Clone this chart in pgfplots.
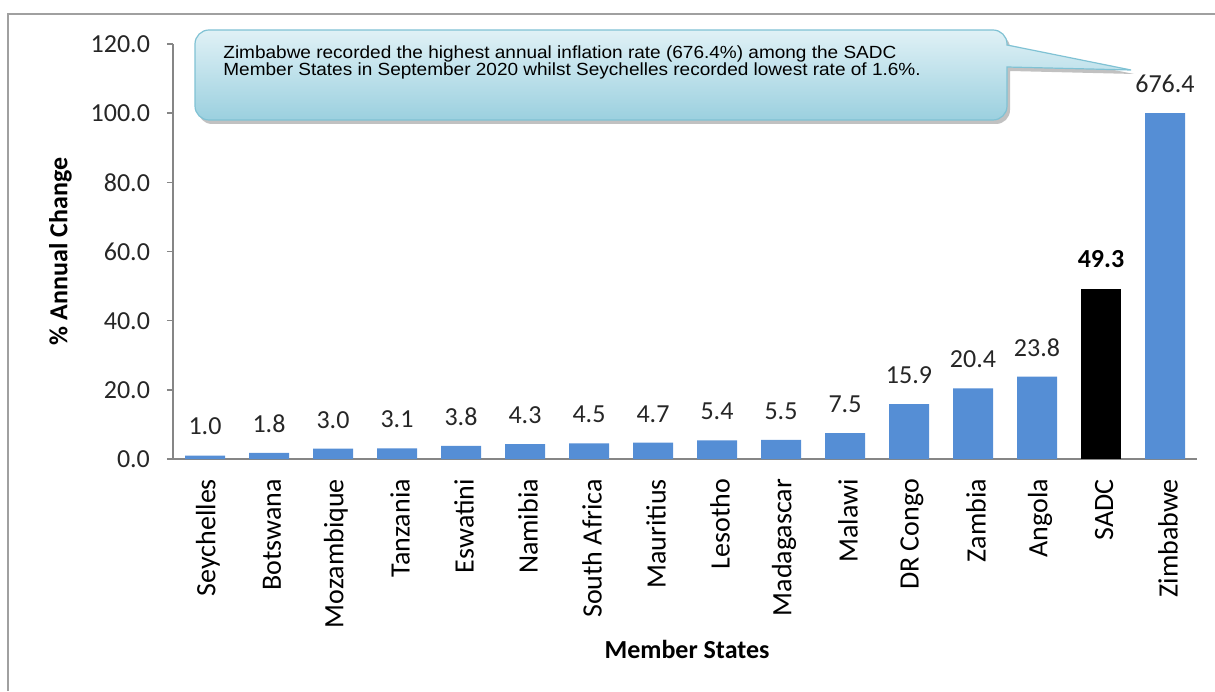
\documentclass[border=0pt]{standalone}
\usepackage{pgfplots}
\pgfplotsset{compat=1.18}
\usepackage{pgfplotstable}
\usepackage{fontspec}
\setmainfont{Carlito}
\newfontfamily\callfont[FakeStretch=1.08]{Liberation Sans}
\definecolor{barblue}{RGB}{85,142,213}
\definecolor{axgray}{RGB}{134,134,134}
\definecolor{framegray}{RGB}{160,160,160}
\definecolor{ctop}{RGB}{224,241,246}
\definecolor{cbot}{RGB}{155,208,223}
\definecolor{cborder}{RGB}{128,194,212}

\pgfplotstableread{
x y lab
0 1.0 1.0
1 1.8 1.8
2 3.0 3.0
3 3.1 3.1
4 3.8 3.8
5 4.3 4.3
6 4.5 4.5
7 4.7 4.7
8 5.4 5.4
9 5.5 5.5
10 7.5 7.5
11 15.9 15.9
12 20.4 20.4
13 23.8 23.8
15 100 676.4
}\bluedata
\pgfplotstableread{
x y lab
14 49.3 49.3
}\sadcdata

\newcommand{\lblfont}{\fontsize{13}{13}\selectfont}

\begin{document}
\begin{tikzpicture}[x=1pt,y=1pt]
\path[use as bounding box] (0,0) rectangle (607.5,345.5);
\draw[framegray, line width=1pt] (4,0) -- (4,338.25) -- (607.5,338.25);
\begin{axis}[
  at={(86.5pt,116pt)}, anchor=south west,
  scale only axis, width=512pt, height=207.5pt,
  xmin=-0.5, xmax=15.5, ymin=0, ymax=120,
  axis x line*=bottom, axis y line*=left,
  axis line style={axgray, line width=0.75pt},
  ytick={0,20,...,120},
  tick align=outside, major tick length=3pt,
  y tick style={axgray, line width=0.75pt},
  x tick style={draw=none},
  /pgf/number format/assume math mode=true,
  yticklabel style={/pgf/number format/fixed, /pgf/number format/precision=1, /pgf/number format/fixed zerofill, font=\lblfont, text=black!85, xshift=-5pt},
  xtick={0,...,15},
  xticklabels={Seychelles,Botswana,Mozambique,Tanzania,Eswatini,Namibia,South Africa,Mauritius,Lesotho,Madagascar,Malawi,DR Congo,Zambia,Angola,SADC,Zimbabwe},
  xticklabel style={rotate=90, anchor=east, font=\fontsize{14}{14}\selectfont, text=black, xshift=-3.5pt, yshift=-1.5pt},
  ybar, bar width=20pt, bar shift=0pt,
  nodes near coords, point meta=explicit symbolic,
  nodes near coords style={font=\lblfont, anchor=south, inner sep=0pt, yshift=10pt, text=black!85},
  clip=false,
  ylabel={\% Annual Change}, xlabel={Member States},
  every axis y label/.style={at={(axis description cs:-0.110,0.5)}, rotate=90, anchor=center, font=\bfseries\lblfont},
  every axis x label/.style={at={(axis description cs:0.502,-0.460)}, anchor=center, font=\bfseries\lblfont},
]
\addplot[fill=barblue, draw=none] table[x=x,y=y,meta=lab]{\bluedata};
\addplot[fill=black, draw=none, nodes near coords style={font=\bfseries\lblfont, text=black}] table[x=x,y=y,meta=lab]{\sadcdata};
\end{axis}
% callout
\fill[gray!60, opacity=0.8, rounded corners=7pt] (99,283.5) -- (99,328.5) -- (505,328.5) [sharp corners] -- (505,321) -- (567,308.5) -- (505,310) [rounded corners=7pt] -- (505,283.5) -- cycle;
\path[top color=ctop, bottom color=cbot, draw=cborder, line width=0.6pt, rounded corners=7pt] (97.5,285.5) -- (97.5,330.5) -- (503.5,330.5) [sharp corners] -- (503.5,323) -- (565.5,310.5) -- (503.5,312) [rounded corners=7pt] -- (503.5,285.5) -- cycle;
\node[anchor=base west, inner sep=0pt, font=\callfont\fontsize{8.8}{8.8}\selectfont] at (111.5,316.2) {Zimbabwe recorded the highest annual inflation rate (676.4\%) among the SADC};
\node[anchor=base west, inner sep=0pt, font=\callfont\fontsize{8.8}{8.8}\selectfont] at (111.5,307.6) {Member States in September 2020 whilst Seychelles recorded lowest rate of 1.6\%.};
\end{tikzpicture}
\end{document}
